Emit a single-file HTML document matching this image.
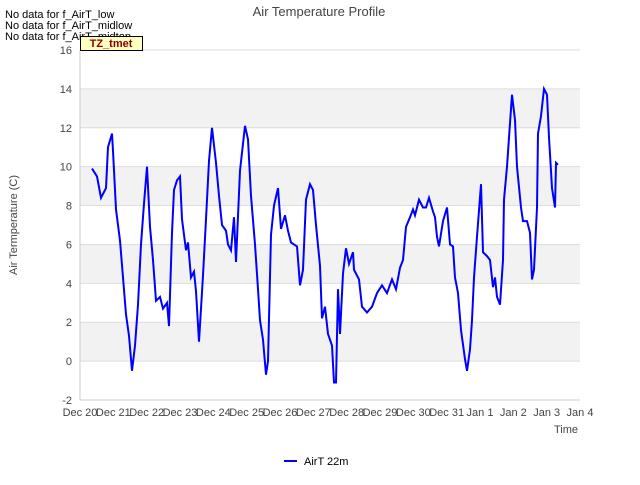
<!DOCTYPE html>
<html><head><meta charset="utf-8"><style>
body{margin:0;background:#fff;font-family:"Liberation Sans",sans-serif}
</style></head><body>
<svg width="640" height="480" xmlns="http://www.w3.org/2000/svg" font-family="Liberation Sans, sans-serif">
<g id="bands"></g><g id="grid"></g><g id="yticks"></g><g id="xticks"></g>
<line x1="80" y1="50" x2="80" y2="400" stroke="#ccc"/>
<line x1="80" y1="400" x2="580" y2="400" stroke="#ccc"/>
<path id="series" fill="none" stroke="#0000ff" stroke-width="2"/>
<text x="319" y="16" text-anchor="middle" font-size="13" fill="#444">Air Temperature Profile</text>
<text x="5" y="18" font-size="11" fill="#000">No data for f_AirT_low</text>
<text x="5" y="29" font-size="11" fill="#000">No data for f_AirT_midlow</text>
<text x="5" y="40" font-size="11" fill="#000">No data for f_AirT_midtop</text>
<rect x="80.5" y="36.5" width="62" height="14" fill="#ffffc0" stroke="#000"/>
<text x="111" y="47" text-anchor="middle" font-size="11" font-weight="bold" fill="#8b0000">TZ_tmet</text>
<text transform="translate(17,225) rotate(-90)" text-anchor="middle" font-size="11" fill="#444">Air Termperature (C)</text>
<text x="578" y="433" text-anchor="end" font-size="11" fill="#444">Time</text>
<line x1="284" y1="461" x2="297" y2="461" stroke="#0000ff" stroke-width="2"/>
<text x="304" y="465" font-size="11" fill="#000">AirT 22m</text>
</svg>
<script>
const yTicks=[-2,0,2,4,6,8,10,12,14,16];
const xLabels=["Dec 20","Dec 21","Dec 22","Dec 23","Dec 24","Dec 25","Dec 26","Dec 27","Dec 28","Dec 29","Dec 30","Dec 31","Jan 1","Jan 2","Jan 3","Jan 4"];
const days=[0.36,0.51,0.63,0.78,0.84,0.96,0.99,1.08,1.2,1.29,1.38,1.47,1.56,1.65,1.74,1.83,1.92,2.01,2.1,2.19,2.28,2.4,2.49,2.61,2.67,2.76,2.82,2.91,3.0,3.06,3.18,3.24,3.33,3.42,3.48,3.57,3.69,3.78,3.87,3.96,4.08,4.17,4.26,4.38,4.44,4.53,4.62,4.68,4.8,4.95,5.04,5.13,5.25,5.34,5.4,5.49,5.58,5.64,5.73,5.82,5.94,6.03,6.15,6.24,6.33,6.51,6.6,6.69,6.78,6.9,6.99,7.08,7.2,7.26,7.35,7.44,7.56,7.62,7.68,7.74,7.8,7.89,7.98,8.07,8.19,8.22,8.37,8.46,8.61,8.76,8.91,9.06,9.21,9.36,9.48,9.6,9.69,9.78,9.9,9.99,10.05,10.17,10.29,10.38,10.47,10.59,10.65,10.71,10.77,10.89,11.01,11.1,11.19,11.25,11.34,11.43,11.55,11.61,11.7,11.76,11.82,11.91,12.03,12.09,12.21,12.3,12.39,12.45,12.51,12.6,12.69,12.72,12.81,12.87,12.96,13.05,13.11,13.23,13.29,13.41,13.5,13.56,13.62,13.71,13.74,13.83,13.92,14.01,14.07,14.16,14.25,14.28,14.34];
const temps=[9.9,9.5,8.4,8.9,11.0,11.7,10.8,7.8,6.2,4.3,2.4,1.3,-0.5,0.8,2.9,6.0,8.1,10.0,6.9,5.2,3.1,3.3,2.7,3.0,1.8,6.6,8.8,9.3,9.5,7.3,5.7,6.1,4.3,4.6,3.6,1.0,4.4,7.3,10.3,12.0,10.2,8.5,7.0,6.7,6.0,5.7,7.4,5.1,9.8,12.1,11.4,8.5,6.0,3.7,2.1,1.1,-0.7,0.0,6.5,8.0,8.9,6.8,7.5,6.7,6.1,5.9,3.9,4.7,8.3,9.1,8.8,7.0,4.9,2.2,2.8,1.4,0.8,-1.1,-1.1,3.7,1.4,4.5,5.8,5.0,5.6,4.7,4.2,2.8,2.5,2.8,3.5,3.9,3.5,4.2,3.7,4.8,5.2,6.9,7.4,7.8,7.5,8.3,7.9,7.9,8.4,7.7,7.4,6.4,5.9,7.2,7.9,6.0,5.9,4.3,3.5,1.6,0.1,-0.5,0.6,2.1,4.3,6.4,9.1,5.6,5.4,5.2,3.8,4.3,3.3,2.9,5.2,8.3,10.0,11.5,13.7,12.4,10.0,7.9,7.2,7.2,6.6,4.2,4.7,7.9,11.7,12.6,14.0,13.7,11.5,8.9,7.9,10.2,10.1];
const NS="http://www.w3.org/2000/svg";
const X0=80,X1=580,Y0=400,Y1=50,YMIN=-2,YMAX=16,DAYS=15;
const xs=d=>X0+(d/DAYS)*(X1-X0);
const ys=v=>Y0-(v-YMIN)/(YMAX-YMIN)*(Y0-Y1);
const bands=document.getElementById('bands'),grid=document.getElementById('grid'),yt=document.getElementById('yticks'),xt=document.getElementById('xticks');
for(let i=0;i<yTicks.length-1;i++){
  if(i%2===1){
    const r=document.createElementNS(NS,'rect');
    
    
    r.setAttribute('x',X0);r.setAttribute('width',X1-X0);
    r.setAttribute('y',ys(yTicks[i+1]));r.setAttribute('height',ys(yTicks[i])-ys(yTicks[i+1]));
    r.setAttribute('fill','#f2f2f2');bands.appendChild(r);
  }
}
yTicks.forEach(v=>{
  const l=document.createElementNS(NS,'line');
  
  
  l.setAttribute('x1',X0);l.setAttribute('x2',X1);l.setAttribute('y1',ys(v));l.setAttribute('y2',ys(v));
  l.setAttribute('stroke','#ddd');grid.appendChild(l);
  const t=document.createElementNS(NS,'text');
  
  
  t.setAttribute('x',72);t.setAttribute('y',ys(v)+4);t.setAttribute('text-anchor','end');
  t.setAttribute('font-size','11');t.setAttribute('fill','#444');t.textContent=v;yt.appendChild(t);
});
xLabels.forEach((s,i)=>{
  const t=document.createElementNS(NS,'text');
  
  
  t.setAttribute('x',xs(i));t.setAttribute('y',416);t.setAttribute('text-anchor','middle');
  t.setAttribute('font-size','11');t.setAttribute('fill','#444');t.textContent=s;xt.appendChild(t);
});
document.getElementById('series').setAttribute('d',days.map((d,i)=>(i?'L':'M')+xs(d).toFixed(1)+','+ys(temps[i]).toFixed(1)).join(''));
</script>
</body></html>
